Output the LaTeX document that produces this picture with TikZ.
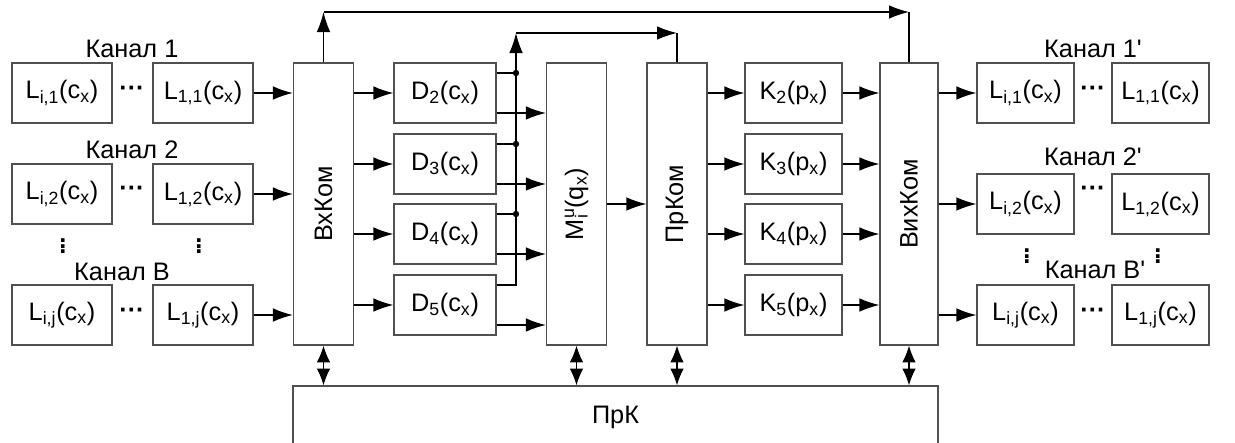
\documentclass[tikz,border=0pt]{standalone}
\usepackage{fontspec}
\newfontfamily\arialfont{Liberation Sans}
\usepackage{xcolor}
\usepackage{tikz}
\usetikzlibrary{arrows.meta,calc,positioning}
\definecolor{BoxGray}{HTML}{505050}
\newcommand{\lsub}[2]{#1\textsubscript{#2}}

\begin{document}
\begin{tikzpicture}[
    x=0.25mm,y=-0.25mm,
    font=\arialfont\fontsize{18}{21}\selectfont,
    >={Latex[length=5mm,width=3.4mm]},
    flow/.style={->,line width=0.9pt,draw=black},
    both/.style={{Latex[length=4.2mm,width=3.4mm]}-{Latex[length=4.2mm,width=3.4mm]},
      line width=0.9pt,draw=black},
    link/.style={line width=0.9pt,draw=black},
    lbox/.style={draw=BoxGray,line width=0.9pt,minimum width=25mm,
      minimum height=15mm,inner sep=0pt,align=center},
    rbox/.style={lbox,minimum width=24.25mm},
    dbox/.style={lbox,minimum width=25.5mm},
    kbox/.style={lbox,minimum width=24.25mm},
    tall/.style={draw=BoxGray,line width=0.9pt,minimum width=15mm,
      minimum height=70.5mm,inner sep=0pt},
    vlabel/.style={rotate=90},
    chan/.style={inner sep=0pt},
    dots/.style={inner sep=0pt,font=\arialfont\fontsize{18}{21}\bfseries},
    junction/.style={circle,fill=black,inner sep=0pt,minimum size=1.6mm}
  ]
    \useasboundingbox (0,0) rectangle (1235,443);

    % Input channels.
    \node[lbox] (li1) at (62,93) {\lsub{L}{i,1}(\lsub{c}{x})};
    \node[lbox] (l11) at (203,93) {\lsub{L}{1,1}(\lsub{c}{x})};
    \node[lbox] (li2) at (62,194) {\lsub{L}{i,2}(\lsub{c}{x})};
    \node[lbox] (l12) at (203,194) {\lsub{L}{1,2}(\lsub{c}{x})};
    \node[lbox] (lij) at (62,315) {\lsub{L}{i,j}(\lsub{c}{x})};
    \node[lbox] (l1j) at (203,315) {\lsub{L}{1,j}(\lsub{c}{x})};
    \node[chan] (ch1) at (132,49) {Канал 1};
    \node[chan] (ch2) at (132,150) {Канал 2};
    \node[chan] (chb) at (122,272) {Канал B};
    \node[dots] (hd1) at (132,91) {···};
    \node[dots] (hd2) at (132,191) {···};
    \node[dots] (hd3) at (132,313) {···};
    \node[dots] (vd1) at (63,242) {$\vdots$};
    \node[dots] (vd2) at (199,242) {$\vdots$};

    % Switches and processing blocks.
    \node[tall] (vxkom) at (323.5,204) {};
    \node[vlabel] at (vxkom) {ВхКом};
    \node[dbox] (d2) at (445,93) {\lsub{D}{2}(\lsub{c}{x})};
    \node[dbox] (d3) at (445,164) {\lsub{D}{3}(\lsub{c}{x})};
    \node[dbox] (d4) at (445,234) {\lsub{D}{4}(\lsub{c}{x})};
    \node[dbox] (d5) at (445,305) {\lsub{D}{5}(\lsub{c}{x})};
    \node[tall] (mix) at (576.5,204) {};
    \node[vlabel] at (mix)
      {M\rlap{\textsubscript{i}}\textsuperscript{u}(\lsub{q}{x})};
    \node[tall] (prkom) at (677,204) {};
    \node[vlabel] at (prkom) {ПрКом};
    \node[kbox] (k2) at (793.5,93) {\lsub{K}{2}(\lsub{p}{x})};
    \node[kbox] (k3) at (793.5,164) {\lsub{K}{3}(\lsub{p}{x})};
    \node[kbox] (k4) at (793.5,234) {\lsub{K}{4}(\lsub{p}{x})};
    \node[kbox] (k5) at (793.5,305) {\lsub{K}{5}(\lsub{p}{x})};
    \node[tall,minimum width=14.5mm] (vyxkom) at (909,204) {};
    \node[vlabel] at (vyxkom) {ВихКом};

    % Output channels.
    \node[rbox] (ri1) at (1025.5,93) {\lsub{L}{i,1}(\lsub{c}{x})};
    \node[rbox] (r11) at (1160.5,93) {\lsub{L}{1,1}(\lsub{c}{x})};
    \node[rbox] (ri2) at (1025.5,204) {\lsub{L}{i,2}(\lsub{c}{x})};
    \node[rbox] (r12) at (1160.5,204) {\lsub{L}{1,2}(\lsub{c}{x})};
    \node[rbox] (rij) at (1025.5,315) {\lsub{L}{i,j}(\lsub{c}{x})};
    \node[rbox] (r1j) at (1160.5,315) {\lsub{L}{1,j}(\lsub{c}{x})};
    \node[chan] (oc1) at (1093,49) {Канал 1'};
    \node[chan] (oc2) at (1093,157) {Канал 2'};
    \node[chan] (ocb) at (1095,270) {Канал B'};
    \node[dots] (od1) at (1093,91) {···};
    \node[dots] (od2) at (1093,191) {···};
    \node[dots] (od3) at (1093,313) {···};
    \node[dots] (ov1) at (1027,252) {$\vdots$};
    \node[dots] (ov2) at (1158,252) {$\vdots$};

    % Control block.
    \node[draw=BoxGray,line width=0.9pt,minimum width=161.25mm,
      minimum height=15.5mm,inner sep=0pt] (prk) at (615.5,417) {ПрК};

    % Signal flow.
    \foreach \src in {l11,l12,l1j}
      \draw[flow] (\src.east) -- (\src.east -| vxkom.west);
    \foreach \dst in {d2,d3,d4,d5}
      \draw[flow] (\dst.west -| vxkom.east) -- (\dst.west);
    \coordinate (bus) at (516,33);
    \foreach \dst in {d2,d3,d4,d5}{
      \coordinate (\dst-up) at ($(\dst.east)+(0,5mm)$);
      \coordinate (\dst-dn) at ($(\dst.east)+(0,-5mm)$);
      \draw[flow] (\dst-dn) -- (\dst-dn -| mix.west);
    }
    \foreach \dst in {d2,d3,d4}{
      \draw[link] (\dst-up) -- (\dst-up -| bus);
      \node[junction] at (\dst-up -| bus) {};
    }
    \draw[flow] (d5-up) -| (bus);
    \draw[flow] (bus) -- (bus -| prkom.north);
    \draw[link] (bus -| prkom.north) -- (prkom.north);
    \draw[flow] (mix.east) -- (prkom.west);
    \foreach \dst in {k2,k3,k4,k5}{
      \draw[flow] (\dst.west -| prkom.east) -- (\dst.west);
      \draw[flow] (\dst.east) -- (\dst.east -| vyxkom.west);
    }
    \foreach \dst in {ri1,ri2,rij}
      \draw[flow] (\dst.west -| vyxkom.east) -- (\dst.west);

    % Bypass over the top.
    \coordinate (topl) at (323.5,12);
    \coordinate (topr) at (909,12);
    \draw[flow] (vxkom.north) -- (topl);
    \draw[flow] (topl) -- (topr);
    \draw[link] (topr) -- (vyxkom.north);

    % Control links.
    \foreach \blk in {vxkom,mix,prkom,vyxkom}
      \draw[both] (\blk.south) -- (\blk.south |- prk.north);
\end{tikzpicture}
\end{document}
